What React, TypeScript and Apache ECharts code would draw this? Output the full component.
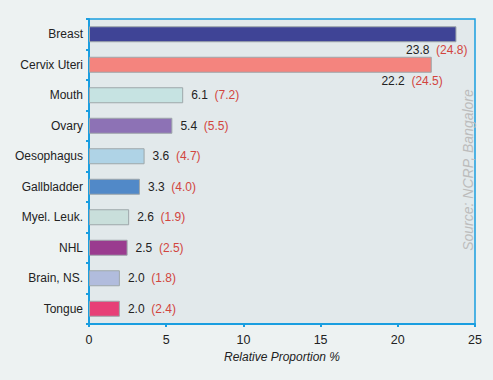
import React, { useEffect, useRef } from "react";
import * as echarts from "echarts";

const categories = [
  "Breast",
  "Cervix Uteri",
  "Mouth",
  "Ovary",
  "Oesophagus",
  "Gallbladder",
  "Myel. Leuk.",
  "NHL",
  "Brain, NS.",
  "Tongue",
];
const values = [23.8, 22.2, 6.1, 5.4, 3.6, 3.3, 2.6, 2.5, 2.0, 2.0];
const compareValues = [24.8, 24.5, 7.2, 5.5, 4.7, 4.0, 1.9, 2.5, 1.8, 2.4];
const barColors = [
  "#3f4496",
  "#f4847e",
  "#c6e3e2",
  "#8d72b5",
  "#afd3e6",
  "#5189c8",
  "#c9dfdb",
  "#9a3b8f",
  "#b1bcdd",
  "#e73f77",
];
const xTicks = [0, 5, 10, 15, 20, 25];

const FONT = "'Liberation Sans', Arial, Helvetica, sans-serif";

export default function App() {
  const ref = useRef<HTMLDivElement>(null);
  useEffect(() => {
    if (!ref.current) return;
    const chart = echarts.init(ref.current, null, { renderer: "svg" });
    const data = values.map((v, i) => {
      const big = v > 15;
      return {
        value: v,
        itemStyle: { color: barColors[i] },
        label: big
          ? {
              show: true,
              position: ["100%", "100%"],
              align: "right",
              verticalAlign: "top",
              offset: [11, 2],
            }
          : {
              show: true,
              position: "right",
              distance: 8,
            },
      };
    });
    chart.setOption({
      animation: false,
      backgroundColor: "#edf2f2",
      textStyle: { fontFamily: FONT },
      grid: {
        left: 89,
        right: 18,
        top: 19,
        bottom: 56,
        show: true,
        backgroundColor: "#e2e9eb",
        borderColor: "#1a9ee0",
        borderWidth: 1.5,
      },
      xAxis: {
        type: "value",
        min: xTicks[0],
        max: xTicks[xTicks.length - 1],
        interval: 5,
        name: "Relative Proportion %",
        nameLocation: "middle",
        nameGap: 22,
        nameTextStyle: {
          fontStyle: "italic",
          fontSize: 12,
          color: "#222",
          fontFamily: FONT,
        },
        axisLine: { show: true, lineStyle: { color: "#1a9ee0", width: 2 } },
        axisTick: { show: true, length: 3, lineStyle: { color: "#1a9ee0", width: 2 } },
        axisLabel: { color: "#222", fontSize: 12.5, margin: 9, fontFamily: FONT },
        splitLine: { show: false },
      },
      yAxis: {
        type: "category",
        data: categories,
        inverse: true,
        axisLine: { show: true, lineStyle: { color: "#1a9ee0", width: 2 } },
        axisTick: {
          show: true,
          length: 3,
          alignWithLabel: false,
          lineStyle: { color: "#1a9ee0", width: 2 },
        },
        axisLabel: { color: "#222", fontSize: 12, margin: 6, fontFamily: FONT },
        splitLine: { show: false },
      },
      series: [
        {
          type: "bar",
          data,
          barWidth: 16,
          itemStyle: { borderColor: "#9ea7aa", borderWidth: 1 },
          label: {
            show: true,
            fontFamily: FONT,
            fontSize: 12,
            formatter: (p: any) =>
              `{v|${values[p.dataIndex].toFixed(1)}}  {p|(${compareValues[
                p.dataIndex
              ].toFixed(1)})}`,
            rich: {
              v: { color: "#222", fontSize: 12, fontFamily: FONT },
              p: { color: "#d2453e", fontSize: 12, fontFamily: FONT },
            },
          },
        },
      ],
      graphic: [
        {
          type: "text",
          x: 468,
          y: 170,
          rotation: Math.PI / 2,
          style: {
            text: "Source: NCRP, Bangalore",
            fill: "#bcbcbc",
            fontSize: 14,
            fontStyle: "italic",
            fontFamily: FONT,
            align: "center",
            verticalAlign: "middle",
          },
        },
      ],
    });
    return () => chart.dispose();
  }, []);
  return (
    <div
      ref={ref}
      style={{ position: "fixed", left: 0, top: 0, width: 493, height: 380 }}
    />
  );
}
